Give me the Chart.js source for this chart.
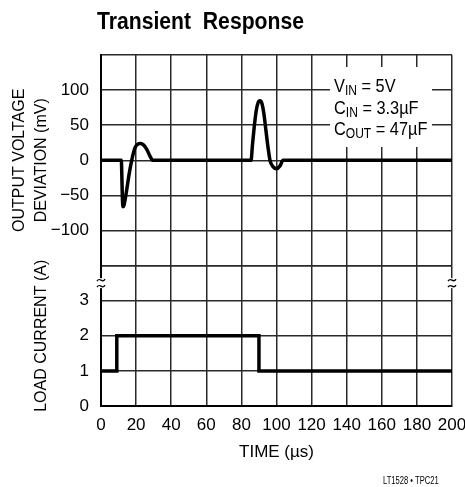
<!DOCTYPE html>
<html lang="en">
<head>
<meta charset="utf-8">
<title>Transient Response</title>
<script src="https://cdn.jsdelivr.net/npm/chart.js@4"></script>
<style>
  html, body { margin: 0; padding: 0; background: #fff; }
  #wrap { position: relative; width: 465px; height: 487px; }
</style>
</head>
<body>
<div id="wrap"><canvas id="chart" width="465" height="487"></canvas></div>
<script>
// scope trace, output voltage deviation (mV) vs time (us)
const voltTime = [0, 11.6, 11.9, 12.2, 12.6, 13.1, 13.8, 14.6, 16, 17.5, 19.4, 21, 22.6, 24.2, 26, 27.9, 29.6,
                  85.5, 86.3, 87.2, 88.4, 89.5, 90.6, 91.7, 92.9, 94, 95.2, 96.3, 98, 100, 102, 103.7, 200];
const voltDev  = [0, 0, -25, -55, -66, -64, -55, -43, -20, 0, 18, 23, 24, 22, 16, 6, 0,
                  0, 22, 45, 70, 82, 85, 81, 65, 42, 18, 0, -9, -12, -8, 0, 0];

// load current step (A)
const loadTime = [0, 9, 9, 90, 90, 200];
const loadAmps = [1, 1, 2, 2, 1, 1];

// axis labels
const timeTicks = [0, 20, 40, 60, 80, 100, 120, 140, 160, 180, 200];
const voltTickLabels = [100, 50, 0, -50, -100];
const ampTickLabels = [0, 1, 2, 3];
const conditions = [['V', 'IN', ' = 5V'], ['C', 'IN', ' = 3.3\u00b5F'], ['C', 'OUT', ' = 47\u00b5F']];

const FAMILY = "'Liberation Sans', Arial, sans-serif";
const GRID = '#2a2a2a';

function minus(v) {
  return v < 0 ? '\u2212' + Math.abs(v) : String(v);
}

// narrow text drawn by hand: squeeze horizontally to mimic the condensed face
function narrowText(ctx, text, x, y, squeeze) {
  ctx.save();
  ctx.translate(x, y);
  ctx.scale(squeeze, 1);
  ctx.fillText(text, 0, 0);
  ctx.restore();
  return ctx.measureText(text).width * squeeze;
}

// axis break: gap in the frame line with two little tildes
function breakMark(ctx, x, y) {
  ctx.fillStyle = '#fff';
  ctx.fillRect(x - 3, y - 5, 6, 10);
  ctx.strokeStyle = '#000';
  ctx.lineWidth = 1.3;
  [-3, 3].forEach(off => {
    const y0 = y + off;
    ctx.beginPath();
    ctx.moveTo(x - 4, y0 + 1);
    ctx.bezierCurveTo(x - 1, y0 - 4, x + 1, y0 + 4, x + 4, y0 - 1);
    ctx.stroke();
  });
}

// title, condition box, axis break marks and part number
const decorations = {
  id: 'decorations',
  beforeDatasetsDraw(chart) {
    const ctx = chart.ctx;
    ctx.save();
    ctx.fillStyle = '#fff';
    ctx.fillRect(330, 67, 102, 80);
    ctx.fillStyle = '#000';
    ctx.textBaseline = 'alphabetic';
    const base = [92, 113.5, 135];
    conditions.forEach((parts, i) => {
      let x = 334;
      ctx.font = '19px ' + FAMILY;
      x += narrowText(ctx, parts[0], x, base[i], 0.86);
      ctx.font = '14px ' + FAMILY;
      x += narrowText(ctx, parts[1], x, base[i] + 3, 0.86);
      ctx.font = '19px ' + FAMILY;
      narrowText(ctx, parts[2], x, base[i], 0.86);
    });
    ctx.restore();
  },
  afterDraw(chart) {
    const ctx = chart.ctx;
    const area = chart.chartArea;
    ctx.save();
    ctx.fillStyle = '#000';
    ctx.font = 'bold 23px ' + FAMILY;
    ctx.textBaseline = 'alphabetic';
    narrowText(ctx, 'Transient  Response', 97, 28.5, 0.92);

    const yb = chart.scales.yI.getPixelForValue(3.5);
    breakMark(ctx, area.left, yb);
    breakMark(ctx, area.right, yb);

    ctx.fillStyle = '#000';
    ctx.font = '10px ' + FAMILY;
    ctx.textAlign = 'left';
    ctx.textBaseline = 'alphabetic';
    narrowText(ctx, 'LT1528 \u2022 TPC21', 383, 484, 0.76);
    ctx.restore();
  }
};

const tickFont = { family: FAMILY, size: 17 };
const titleFont = { family: FAMILY, size: 16, lineHeight: 1.4 };

new Chart(document.getElementById('chart'), {
  type: 'line',
  data: {
    datasets: [
      {
        data: voltTime.map((t, i) => ({ x: t, y: voltDev[i] })),
        yAxisID: 'yV',
        borderColor: '#000',
        borderWidth: 3.5,
        pointRadius: 0,
        cubicInterpolationMode: 'monotone'
      },
      {
        data: loadTime.map((t, i) => ({ x: t, y: loadAmps[i] })),
        yAxisID: 'yI',
        borderColor: '#000',
        borderWidth: 3.5,
        pointRadius: 0,
        tension: 0
      }
    ]
  },
  options: {
    responsive: false,
    animation: false,
    layout: { padding: { top: 55, right: 13, bottom: 0, left: 0 } },
    plugins: { legend: { display: false }, tooltip: { enabled: false }, title: { display: false } },
    scales: {
      x: {
        type: 'linear',
        min: 0, max: 200,
        afterBuildTicks(s) { s.ticks = timeTicks.map(v => ({ value: v })); },
        afterFit(s) { s.height = 81; s.paddingLeft = 0; s.paddingRight = 0; },
        ticks: { padding: 9, color: '#000', font: tickFont, maxRotation: 0, autoSkip: false },
        grid: { color: GRID, lineWidth: 1.5, drawTicks: false },
        border: { color: '#000', width: 2 },
        title: { display: true, text: 'TIME (\u00b5s)', color: '#000', font: { family: FAMILY, size: 17, lineHeight: 1.2 }, padding: { top: 0, bottom: 24 } }
      },
      yI: {
        type: 'linear',
        position: 'left',
        stack: 'left',
        stackWeight: 4,
        min: 0, max: 4,
        afterFit(s) { s.width = 101; s.paddingTop = 0; s.paddingBottom = 0; },
        ticks: { stepSize: 1, padding: 12, color: '#000', font: tickFont, autoSkip: false,
                 callback: v => ampTickLabels.includes(v) ? String(v) : '' },
        grid: { color: GRID, lineWidth: 1.5, drawTicks: false },
        border: { color: '#000', width: 2 },
        title: { display: true, text: ['', 'LOAD CURRENT (A)'], color: '#000', font: titleFont, padding: { top: 8, bottom: 0 } }
      },
      yV: {
        type: 'linear',
        position: 'left',
        stack: 'left',
        stackWeight: 6,
        min: -150, max: 150,
        afterFit(s) { s.width = 101; s.paddingTop = 0; s.paddingBottom = 0; },
        ticks: { stepSize: 50, padding: 12, color: '#000', font: tickFont, autoSkip: false,
                 callback: v => voltTickLabels.includes(v) ? minus(v) : '' },
        grid: { color: GRID, lineWidth: 1.5, drawTicks: false },
        border: { color: '#000', width: 2 },
        title: { display: true, text: ['OUTPUT VOLTAGE', 'DEVIATION (mV)'], color: '#000', font: titleFont, padding: { top: 8, bottom: 0 } }
      }
    }
  },
  plugins: [decorations]
});
</script>
</body>
</html>
